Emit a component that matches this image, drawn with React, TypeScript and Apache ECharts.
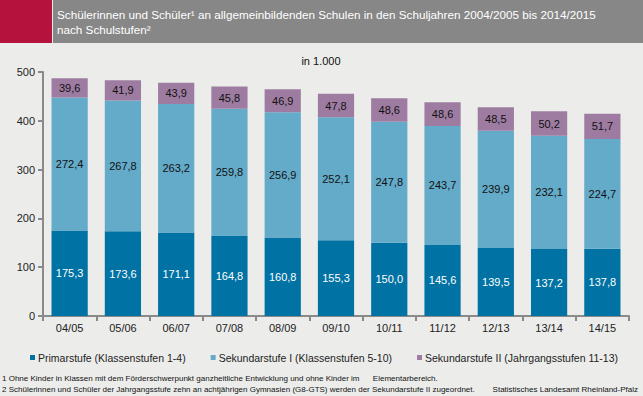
import React, { useEffect, useRef } from "react";
import * as echarts from "echarts";

const categories = ["04/05", "05/06", "06/07", "07/08", "08/09", "09/10", "10/11", "11/12", "12/13", "13/14", "14/15"];
const primar = [175.3, 173.6, 171.1, 164.8, 160.8, 155.3, 150.0, 145.6, 139.5, 137.2, 137.8];
const sekI = [272.4, 267.8, 263.2, 259.8, 256.9, 252.1, 247.8, 243.7, 239.9, 232.1, 224.7];
const sekII = [39.6, 41.9, 43.9, 45.8, 46.9, 47.8, 48.6, 48.6, 48.5, 50.2, 51.7];
const seriesNames = ["Primarstufe (Klassenstufen 1-4)", "Sekundarstufe I (Klassenstufen 5-10)", "Sekundarstufe II (Jahrgangsstufen 11-13)"];
const colors = ["#0072a3", "#64aac9", "#9e7ca2"];
const fmt = (v: number) => v.toFixed(1).replace(".", ",");
const FONT = "Liberation Sans";

export default function App() {
  const ref = useRef<HTMLDivElement>(null);
  useEffect(() => {
    const chart = echarts.init(ref.current!, null, { renderer: "svg" });
    const data = [primar, sekI, sekII];
    chart.setOption({
      animation: false,
      backgroundColor: "#ecedeb",
      textStyle: { fontFamily: FONT },
      grid: { left: 43, right: 14, top: 72, bottom: 80 },
      legend: {
        left: 25,
        top: 347,
        itemWidth: 5,
        itemHeight: 5,
        itemGap: 25,
        icon: "rect",
        textStyle: { fontFamily: FONT, fontSize: 10.5, color: "#222", padding: [0, 0, 0, -2] },
        data: seriesNames,
      },
      xAxis: {
        type: "category",
        data: categories,
        axisLine: { lineStyle: { color: "#8a8a8a", width: 2 } },
        axisTick: { show: true, length: 5, lineStyle: { color: "#8a8a8a", width: 2 } },
        axisLabel: { color: "#222", fontSize: 11, margin: 6 },
      },
      yAxis: {
        type: "value",
        min: 0,
        max: 500,
        interval: 100,
        axisLine: { show: true, lineStyle: { color: "#8a8a8a", width: 2 } },
        axisTick: { show: true, length: 5, lineStyle: { color: "#8a8a8a", width: 2 } },
        splitLine: { show: false },
        axisLabel: { color: "#222", fontSize: 11, margin: 8 },
      },
      series: data.map((d, i) => ({
        name: seriesNames[i],
        type: "bar",
        stack: "total",
        data: d,
        barCategoryGap: "32%",
        itemStyle: { color: colors[i] },
        label: {
          show: true,
          position: "inside",
          formatter: (p: any) => fmt(p.value),
          color: i === 0 ? "#ffffff" : "#111",
          fontSize: 11,
          fontFamily: FONT,
        },
      })),
      graphic: [
        { type: "rect", shape: { x: 0, y: 0, width: 52, height: 43 }, style: { fill: "#b5123e" } },
        { type: "rect", shape: { x: 53, y: 0, width: 590, height: 43 }, style: { fill: "#878787" } },
        { type: "text", x: 57, y: 8, style: { text: "Schülerinnen und Schüler¹ an allgemeinbildenden Schulen in den Schuljahren 2004/2005 bis 2014/2015", fill: "#fff", font: `11.7px ${FONT}` } },
        { type: "text", x: 57, y: 23, style: { text: "nach Schulstufen²", fill: "#fff", font: `11.7px ${FONT}` } },
        { type: "text", x: 321, y: 55, style: { text: "in 1.000", fill: "#111", font: `11px ${FONT}`, align: "center" } },
        { type: "text", x: 2, y: 374, style: { text: "1 Ohne Kinder in Klassen mit dem Förderschwerpunkt ganzheitliche Entwicklung und ohne Kinder im      Elementarbereich.", fill: "#111", font: `8px ${FONT}` } },
        { type: "text", x: 2, y: 385, style: { text: "2 Schülerinnen und Schüler der Jahrgangsstufe zehn an achtjährigen Gymnasien (G8-GTS) werden der Sekundarstufe II zugeordnet.", fill: "#111", font: `8px ${FONT}` } },
        { type: "text", x: 638, y: 385, style: { text: "Statistisches Landesamt Rheinland-Pfalz", fill: "#111", font: `8px ${FONT}`, align: "right" } },
      ],
    });
    return () => chart.dispose();
  }, []);
  return <div ref={ref} style={{ width: 643, height: 396, position: "absolute", left: 0, top: 0 }} />;
}
